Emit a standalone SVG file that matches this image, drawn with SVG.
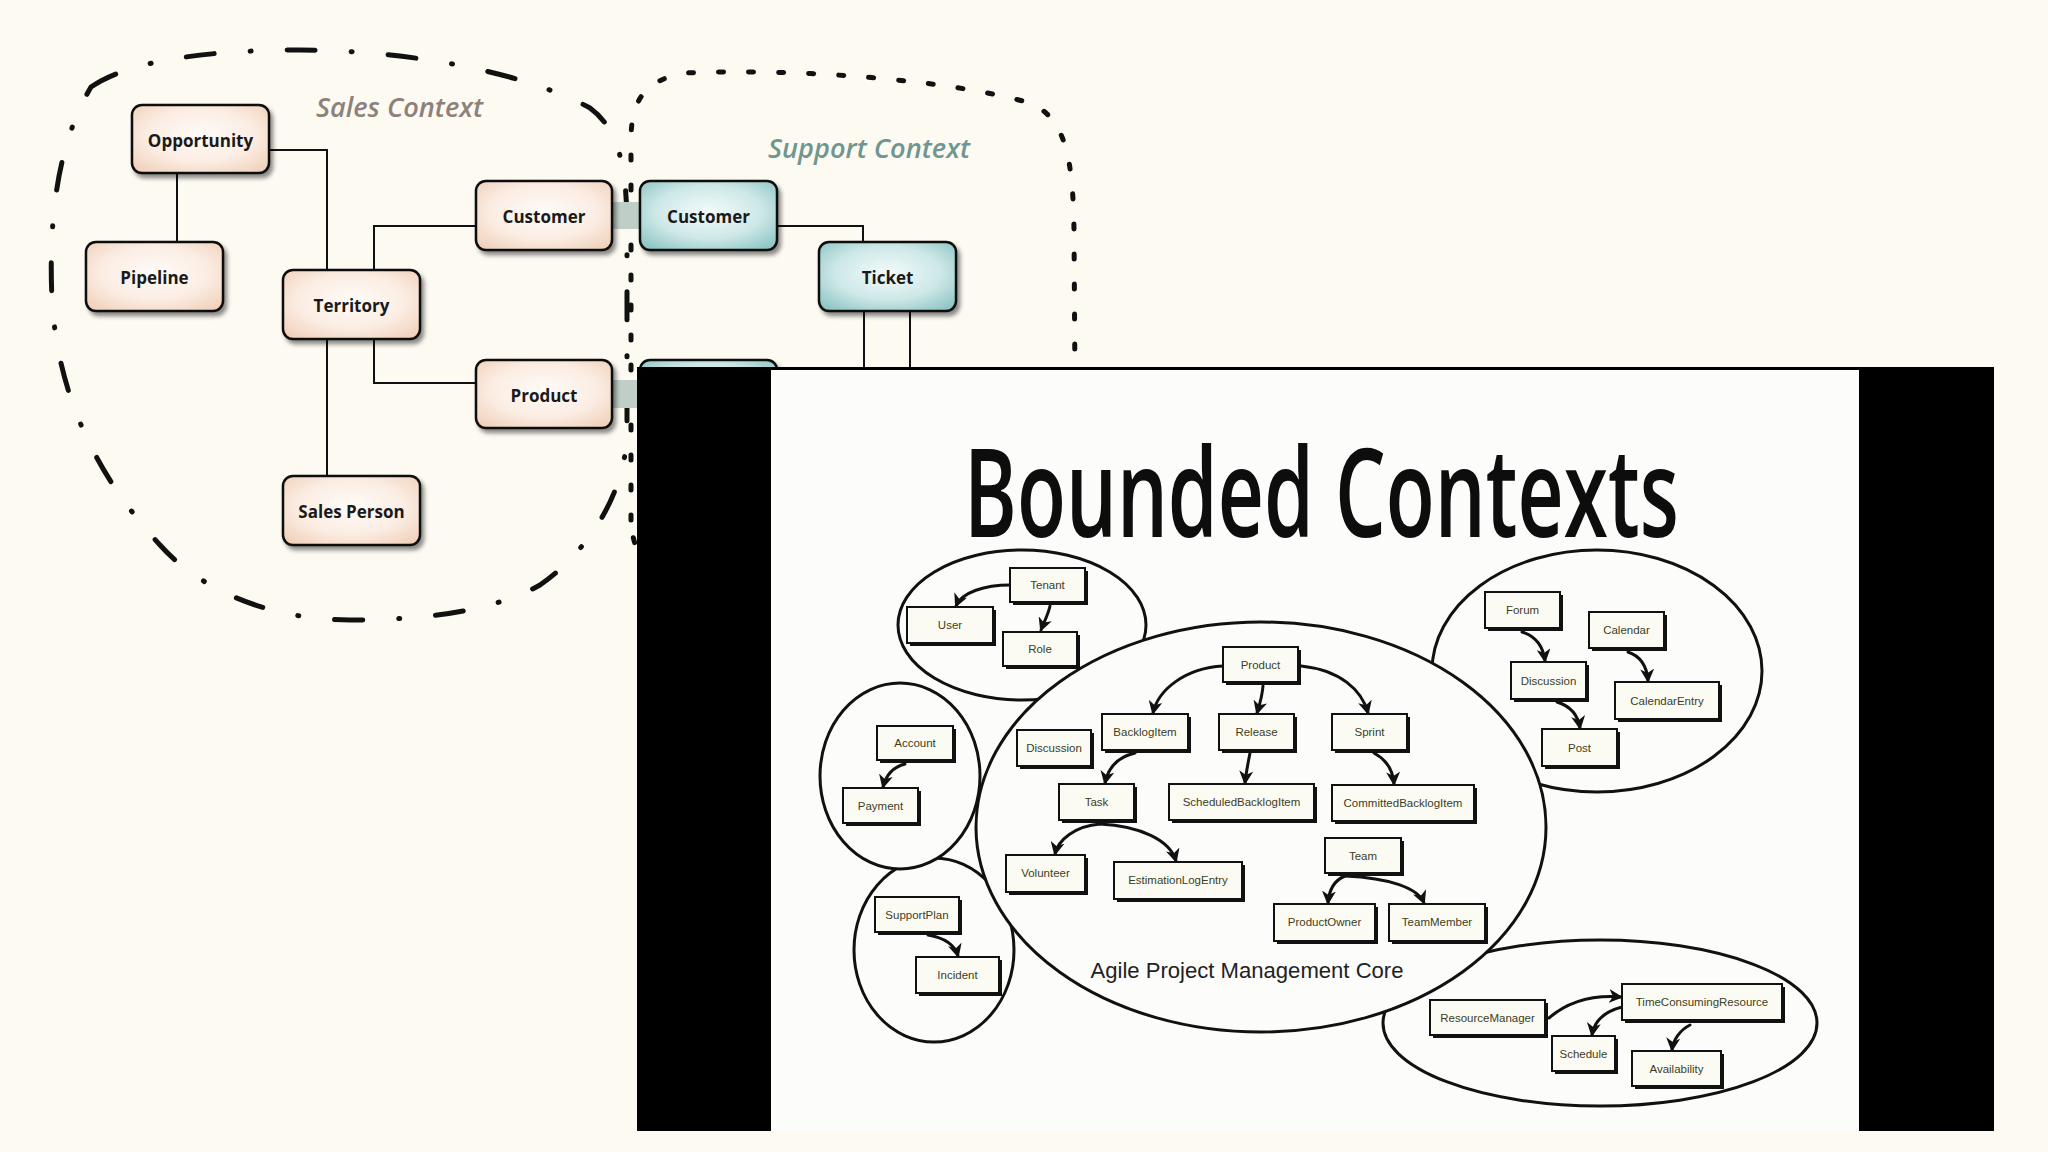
<svg xmlns="http://www.w3.org/2000/svg" width="2048" height="1152" viewBox="0 0 2048 1152">
<defs>
<radialGradient id="gSales" cx="50%" cy="45%" r="70%">
<stop offset="0" stop-color="#fffbf8"/><stop offset="0.55" stop-color="#fbede3"/><stop offset="1" stop-color="#f0cfb8"/>
</radialGradient>
<radialGradient id="gSupport" cx="50%" cy="45%" r="70%">
<stop offset="0" stop-color="#f3fbfb"/><stop offset="0.55" stop-color="#cde8e7"/><stop offset="1" stop-color="#88c2c1"/>
</radialGradient>
<filter id="sh" x="-15%" y="-15%" width="140%" height="150%">
<feDropShadow dx="3" dy="4" stdDeviation="2" flood-color="#000" flood-opacity="0.45"/>
</filter>
<marker id="ah" markerUnits="userSpaceOnUse" markerWidth="16" markerHeight="14" refX="12" refY="7" orient="auto">
<path d="M0,0 L14,7 L0,14 L4,7 Z" fill="#111"/>
</marker>
<style>
.bnd-sales{fill:none;stroke:#111;stroke-width:5;stroke-linecap:round;stroke-dasharray:28 36 1 36}
.bnd-sup{fill:none;stroke:#111;stroke-width:5;stroke-linecap:round;stroke-dasharray:5 25}
.ctx{font-family:"Open Sans","Liberation Sans",sans-serif;font-style:italic;font-weight:600;font-size:27px}
.node-s{fill:url(#gSales);stroke:#111;stroke-width:2.5;filter:url(#sh)}
.node-t{fill:url(#gSupport);stroke:#111;stroke-width:2.5;filter:url(#sh)}
.nl{font-family:"Open Sans","Liberation Sans",sans-serif;font-weight:700;font-size:17px;fill:#1a1a1a;text-anchor:middle}
.ln{fill:none;stroke:#111;stroke-width:2}
.band{fill:#bfcfc7}
.ell{fill:#fcfcfb;stroke:#111;stroke-width:3}
.bx-sh{fill:#111}
.bx{fill:#fbfbf4;stroke:#111;stroke-width:2}
.bl{font-family:"Liberation Sans",Arial,sans-serif;font-size:11.5px;fill:#3d3d1c;text-anchor:middle}
.arr{fill:none;stroke:#111;stroke-width:3;stroke-linecap:round;marker-end:url(#ah)}
</style>
</defs>
<rect x="0" y="0" width="2048" height="1152" fill="#fdfaf2"/>

<g id="support-context">
<path class="bnd-sup" d="M631,520 L631,140 C631,100 645,80 685,73 C800,68 950,80 1030,103 C1066,118 1073,160 1074,230 L1077,700 C1077,740 1000,760 900,760 C760,760 700,700 660,600 C640,560 631,540 631,520 Z"/>
<text class="ctx" x="768" y="158" fill="#6f9690" textLength="202" lengthAdjust="spacingAndGlyphs">Support Context</text>
</g>

<g id="sales-context">
<path class="bnd-sales" d="M91,87 C130,60 210,50 300,50 C400,50 520,70 590,108 C620,130 627,170 627,230 L627,430 C627,490 590,550 540,585 C495,610 430,620 350,620 C270,620 200,590 160,545 C100,480 58,400 52,300 C48,210 60,140 91,87 Z"/>
<text class="ctx" x="316" y="117" fill="#8d817c" textLength="167" lengthAdjust="spacingAndGlyphs">Sales Context</text>
</g>

<g id="connectors">
<path class="ln" d="M269,150 H327 V270"/>
<path class="ln" d="M177,173 V242"/>
<path class="ln" d="M374,270 V226 H476"/>
<path class="ln" d="M374,339 V383 H476"/>
<path class="ln" d="M327,339 V476"/>
<path class="ln" d="M777,226 H863 V242"/>
<path class="ln" d="M864,311 V420"/>
<path class="ln" d="M910,311 V420"/>
<rect class="band" x="612" y="202" width="28" height="27"/>
<rect class="band" x="612" y="380" width="28" height="28"/>
</g>

<g id="node-opportunity"><rect class="node-s" x="132" y="105" width="137" height="68" rx="10"/><text class="nl" x="200.5" y="147">Opportunity</text></g>
<g id="node-pipeline"><rect class="node-s" x="86" y="242" width="137" height="69" rx="10"/><text class="nl" x="154.5" y="284">Pipeline</text></g>
<g id="node-territory"><rect class="node-s" x="283" y="270" width="137" height="69" rx="10"/><text class="nl" x="351.5" y="312">Territory</text></g>
<g id="node-customer-sales"><rect class="node-s" x="476" y="181" width="136" height="69" rx="10"/><text class="nl" x="544" y="223">Customer</text></g>
<g id="node-product-sales"><rect class="node-s" x="476" y="360" width="136" height="68" rx="10"/><text class="nl" x="544" y="402">Product</text></g>
<g id="node-salesperson"><rect class="node-s" x="283" y="476" width="137" height="69" rx="10"/><text class="nl" x="351.5" y="518">Sales Person</text></g>
<g id="node-customer-support"><rect class="node-t" x="640" y="181" width="137" height="69" rx="10"/><text class="nl" x="708.5" y="223">Customer</text></g>
<g id="node-ticket"><rect class="node-t" x="819" y="242" width="137" height="69" rx="10"/><text class="nl" x="887.5" y="284">Ticket</text></g>
<g id="node-product-support"><rect class="node-t" x="640" y="360" width="137" height="68" rx="10"/></g>

<g id="slide">
<rect x="637" y="367" width="1357" height="764" fill="#000"/>
<rect x="771" y="370" width="1088" height="761" fill="#fcfcfb"/>
<g transform="translate(964,537) scale(0.66,1)">
<text x="0" y="0" font-family="Open Sans, Liberation Sans, sans-serif" font-weight="600" font-size="124" fill="#0d0d0d" textLength="1083" lengthAdjust="spacingAndGlyphs">Bounded Contexts</text>
</g>

<g id="slide-ellipses">
<ellipse class="ell" cx="934" cy="950" rx="80" ry="92"/>
<ellipse class="ell" cx="900" cy="776" rx="80" ry="93"/>
<ellipse class="ell" cx="1022" cy="625" rx="124" ry="75"/>
<ellipse class="ell" cx="1597" cy="671" rx="165" ry="121"/>
<ellipse class="ell" cx="1600" cy="1023" rx="217" ry="83"/>
<ellipse class="ell" cx="1261" cy="827" rx="285" ry="205"/>
<text x="1247" y="978" font-family="Liberation Sans, Arial, sans-serif" font-size="22" fill="#222" text-anchor="middle" textLength="313" lengthAdjust="spacingAndGlyphs">Agile Project Management Core</text>
</g>

<g id="slide-arrows">
<path class="arr" d="M1010,585 C985,585 962,592 956,606"/>
<path class="arr" d="M1050,606 C1048,615 1044,622 1041,630"/>
<path class="arr" d="M905,764 C893,767 886,775 883,787"/>
<path class="arr" d="M928,935 C945,938 955,945 958,956"/>
<path class="arr" d="M1223,666 C1185,668 1158,690 1153,713"/>
<path class="arr" d="M1263,686 C1262,698 1259,706 1257,713"/>
<path class="arr" d="M1301,666 C1340,670 1362,690 1368,713"/>
<path class="arr" d="M1135,753 C1118,757 1108,768 1105,783"/>
<path class="arr" d="M1250,753 C1248,763 1246,773 1245,783"/>
<path class="arr" d="M1374,753 C1387,760 1393,770 1394,784"/>
<path class="arr" d="M1100,824 C1075,826 1058,840 1055,854"/>
<path class="arr" d="M1100,824 C1140,826 1170,840 1176,861"/>
<path class="arr" d="M1345,876 C1335,880 1329,890 1328,903"/>
<path class="arr" d="M1345,876 C1390,878 1418,888 1424,903"/>
<path class="arr" d="M1522,632 C1535,636 1543,645 1545,661"/>
<path class="arr" d="M1628,652 C1640,656 1647,666 1648,681"/>
<path class="arr" d="M1557,702 C1570,706 1578,715 1580,728"/>
<path class="arr" d="M1549,1018 C1570,1000 1595,995 1621,997"/>
<path class="arr" d="M1622,1007 C1603,1012 1594,1022 1592,1035"/>
<path class="arr" d="M1690,1025 C1680,1030 1673,1040 1672,1050"/>
</g>

<g id="box-tenant"><rect class="bx-sh" x="1013" y="571" width="75" height="34"/><rect class="bx" x="1010" y="568" width="75" height="34"/><text class="bl" x="1047.5" y="589">Tenant</text></g>
<g id="box-user"><rect class="bx-sh" x="910" y="610" width="86" height="36"/><rect class="bx" x="907" y="607" width="86" height="36"/><text class="bl" x="950" y="629">User</text></g>
<g id="box-role"><rect class="bx-sh" x="1006" y="635" width="74" height="34"/><rect class="bx" x="1003" y="632" width="74" height="34"/><text class="bl" x="1040" y="653">Role</text></g>
<g id="box-account"><rect class="bx-sh" x="880" y="729" width="76" height="34"/><rect class="bx" x="877" y="726" width="76" height="34"/><text class="bl" x="915" y="747">Account</text></g>
<g id="box-payment"><rect class="bx-sh" x="846" y="791" width="75" height="35"/><rect class="bx" x="843" y="788" width="75" height="35"/><text class="bl" x="880.5" y="809.5">Payment</text></g>
<g id="box-supportplan"><rect class="bx-sh" x="878" y="900" width="84" height="35"/><rect class="bx" x="875" y="897" width="84" height="35"/><text class="bl" x="917" y="918.5">SupportPlan</text></g>
<g id="box-incident"><rect class="bx-sh" x="919" y="960" width="83" height="36"/><rect class="bx" x="916" y="957" width="83" height="36"/><text class="bl" x="957.5" y="979">Incident</text></g>
<g id="box-product"><rect class="bx-sh" x="1226" y="650" width="75" height="35"/><rect class="bx" x="1223" y="647" width="75" height="35"/><text class="bl" x="1260.5" y="668.5">Product</text></g>
<g id="box-discussion-core"><rect class="bx-sh" x="1020" y="733" width="74" height="36"/><rect class="bx" x="1017" y="730" width="74" height="36"/><text class="bl" x="1054" y="752">Discussion</text></g>
<g id="box-backlogitem"><rect class="bx-sh" x="1105" y="717" width="86" height="36"/><rect class="bx" x="1102" y="714" width="86" height="36"/><text class="bl" x="1145" y="736">BacklogItem</text></g>
<g id="box-release"><rect class="bx-sh" x="1222" y="717" width="75" height="36"/><rect class="bx" x="1219" y="714" width="75" height="36"/><text class="bl" x="1256.5" y="736">Release</text></g>
<g id="box-sprint"><rect class="bx-sh" x="1335" y="717" width="75" height="36"/><rect class="bx" x="1332" y="714" width="75" height="36"/><text class="bl" x="1369.5" y="736">Sprint</text></g>
<g id="box-task"><rect class="bx-sh" x="1062" y="787" width="75" height="36"/><rect class="bx" x="1059" y="784" width="75" height="36"/><text class="bl" x="1096.5" y="806">Task</text></g>
<g id="box-scheduled"><rect class="bx-sh" x="1172" y="787" width="145" height="36"/><rect class="bx" x="1169" y="784" width="145" height="36"/><text class="bl" x="1241.5" y="806">ScheduledBacklogItem</text></g>
<g id="box-committed"><rect class="bx-sh" x="1335" y="788" width="142" height="36"/><rect class="bx" x="1332" y="785" width="142" height="36"/><text class="bl" x="1403" y="807">CommittedBacklogItem</text></g>
<g id="box-volunteer"><rect class="bx-sh" x="1009" y="858" width="79" height="37"/><rect class="bx" x="1006" y="855" width="79" height="37"/><text class="bl" x="1045.5" y="877">Volunteer</text></g>
<g id="box-estimation"><rect class="bx-sh" x="1117" y="865" width="128" height="37"/><rect class="bx" x="1114" y="862" width="128" height="37"/><text class="bl" x="1178" y="884">EstimationLogEntry</text></g>
<g id="box-team"><rect class="bx-sh" x="1328" y="841" width="76" height="35"/><rect class="bx" x="1325" y="838" width="76" height="35"/><text class="bl" x="1363" y="859.5">Team</text></g>
<g id="box-productowner"><rect class="bx-sh" x="1277" y="907" width="101" height="37"/><rect class="bx" x="1274" y="904" width="101" height="37"/><text class="bl" x="1324.5" y="926">ProductOwner</text></g>
<g id="box-teammember"><rect class="bx-sh" x="1392" y="907" width="96" height="37"/><rect class="bx" x="1389" y="904" width="96" height="37"/><text class="bl" x="1437" y="926">TeamMember</text></g>
<g id="box-forum"><rect class="bx-sh" x="1488" y="595" width="75" height="36"/><rect class="bx" x="1485" y="592" width="75" height="36"/><text class="bl" x="1522.5" y="614">Forum</text></g>
<g id="box-calendar"><rect class="bx-sh" x="1592" y="615" width="75" height="36"/><rect class="bx" x="1589" y="612" width="75" height="36"/><text class="bl" x="1626.5" y="634">Calendar</text></g>
<g id="box-discussion-forum"><rect class="bx-sh" x="1514" y="665" width="75" height="37"/><rect class="bx" x="1511" y="662" width="75" height="37"/><text class="bl" x="1548.5" y="684.5">Discussion</text></g>
<g id="box-calendarentry"><rect class="bx-sh" x="1618" y="685" width="104" height="37"/><rect class="bx" x="1615" y="682" width="104" height="37"/><text class="bl" x="1667" y="704.5">CalendarEntry</text></g>
<g id="box-post"><rect class="bx-sh" x="1545" y="732" width="75" height="37"/><rect class="bx" x="1542" y="729" width="75" height="37"/><text class="bl" x="1579.5" y="751.5">Post</text></g>
<g id="box-resourcemanager"><rect class="bx-sh" x="1433" y="1003" width="115" height="35"/><rect class="bx" x="1430" y="1000" width="115" height="35"/><text class="bl" x="1487.5" y="1021.5">ResourceManager</text></g>
<g id="box-tcr"><rect class="bx-sh" x="1625" y="987" width="160" height="36"/><rect class="bx" x="1622" y="984" width="160" height="36"/><text class="bl" x="1702" y="1006">TimeConsumingResource</text></g>
<g id="box-schedule"><rect class="bx-sh" x="1555" y="1039" width="63" height="35"/><rect class="bx" x="1552" y="1036" width="63" height="35"/><text class="bl" x="1583.5" y="1057.5">Schedule</text></g>
<g id="box-availability"><rect class="bx-sh" x="1635" y="1054" width="89" height="35"/><rect class="bx" x="1632" y="1051" width="89" height="35"/><text class="bl" x="1676.5" y="1072.5">Availability</text></g>
</g>
</svg>
